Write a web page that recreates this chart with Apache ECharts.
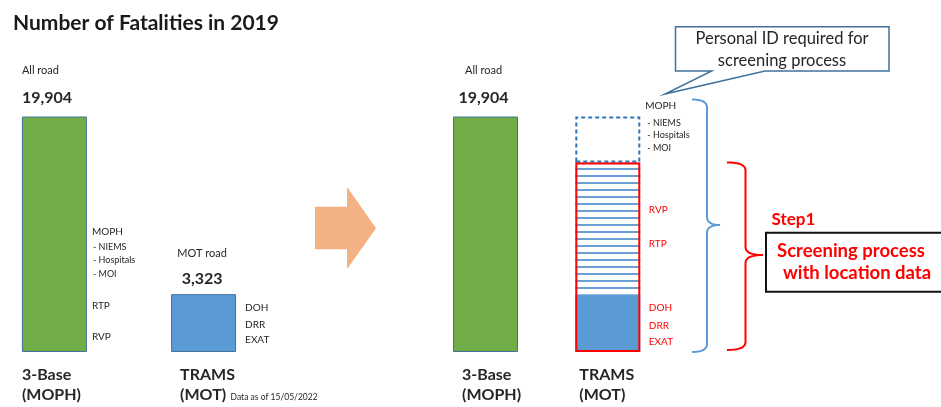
<!DOCTYPE html>
<html>
<head>
<meta charset="utf-8">
<script src="https://cdn.jsdelivr.net/npm/echarts@6/dist/echarts.min.js"></script>
<style>
  html, body { margin: 0; padding: 0; background: #ffffff; }
  #chart { width: 941px; height: 407px; }
</style>
</head>
<body>
<div id="chart"></div>
<script>
// ---------------- data ----------------
const chartTitle = 'Number of Fatalities in 2019';
const categories = ['3-Base', 'TRAMS'];
const categoryOwners = ['(MOPH)', '(MOT)'];
const roadTypes = ['All road', 'MOT road'];
const reportedTotals = [19904, 3323];          // numbers printed above the bars
const drawnHeights = [19904, 4890];            // bar heights as drawn (schematic)
const tramsRecorded = [null, 4890];            // right panel: TRAMS records (blue)
const tramsScreened = [null, 11135];           // right panel: matched by screening (hatched)
const tramsUnmatched = [null, 3879];           // right panel: remaining (dashed)
const mophSources = ['MOPH', '- NIEMS', '- Hospitals', '- MOI'];
const mophOther = ['RTP', 'RVP'];
const motSources = ['DOH', 'DRR', 'EXAT'];
const screenSources = ['RVP', 'RTP'];
const calloutText = ['Personal ID required for', 'screening process'];
const stepTitle = 'Step1';
const stepText = ['Screening process', 'with location data'];
const dataNote = 'Data as of 15/05/2022';

// ---------------- styles ----------------
const FONT = 'Lato';
const GREEN = '#70AD47';
const BLUE = '#5B9BD5';
const EDGE = '#41719C';
const RED = '#FF0000';
const TXT = '#262626';
const fmt = n => n.toLocaleString('en-US');
const YMAX = 19904;

const chart = echarts.init(document.getElementById('chart'));

const axisX = (g) => ({ type: 'category', gridIndex: g, data: categories, boundaryGap: false, show: false });
const axisY = (g) => ({ type: 'value', gridIndex: g, min: 0, max: YMAX, show: false });

const richLabels = {
  a: { fontFamily: FONT, fontSize: 11, color: TXT, lineHeight: 26 },
  b: { fontFamily: FONT, fontSize: 16, fontWeight: 'bold', color: TXT, lineHeight: 28 },
  a2: { fontFamily: FONT, fontSize: 11, color: TXT, lineHeight: 24 },
  b2: { fontFamily: FONT, fontSize: 16, fontWeight: 'bold', color: TXT, lineHeight: 28 }
};

const option = {
  animation: false,
  backgroundColor: '#ffffff',
  title: {
    text: chartTitle, left: 8, top: 8,
    textStyle: { fontFamily: FONT, fontSize: 21, fontWeight: 'bold', color: '#1a1a1a' }
  },
  grid: [
    { left: 54.4, width: 149.2, top: 116.5, height: 235.5, outerBoundsMode: 'none' },
    { left: 485.5, width: 122.3, top: 116.5, height: 235.5, outerBoundsMode: 'none' }
  ],
  xAxis: [axisX(0), axisX(1)],
  yAxis: [axisY(0), axisY(1)],
  series: [
    {
      name: 'left', type: 'bar', xAxisIndex: 0, yAxisIndex: 0, barWidth: 65,
      data: drawnHeights.map((v, i) => ({
        value: v,
        itemStyle: { color: i === 0 ? GREEN : BLUE, borderColor: EDGE, borderWidth: 1 },
        label: i === 0
          ? { show: true, position: 'top', distance: 5, align: 'left', offset: [-32.5, 0],
              formatter: `{a|${roadTypes[0]}}\n{b|${fmt(reportedTotals[0])}}`, rich: richLabels }
          : { show: true, position: 'top', distance: 1, offset: [-1.5, 0],
              formatter: `{a2|${roadTypes[1]}}\n{b2|${fmt(reportedTotals[1])}}`, rich: richLabels }
      }))
    },
    {
      name: 'base+recorded', type: 'bar', xAxisIndex: 1, yAxisIndex: 1, stack: 'r', barWidth: 65, barGap: '-100%',
      data: [
        { value: drawnHeights[0], itemStyle: { color: GREEN, borderColor: EDGE, borderWidth: 1 },
          label: { show: true, position: 'top', distance: 5, offset: [-2, 0],
                   formatter: `{a|${roadTypes[0]}}\n{b|${fmt(reportedTotals[0])}}`, rich: richLabels } },
        { value: tramsRecorded[1], itemStyle: { color: BLUE, borderWidth: 0 } }
      ]
    },
    {
      name: 'screened', type: 'bar', xAxisIndex: 1, yAxisIndex: 1, stack: 'r', barWidth: 65, barGap: '-100%',
      data: tramsScreened.map(v => v == null ? '-' : v),
      itemStyle: {
        color: '#ffffff',
        decal: { symbol: 'rect', symbolSize: 1, color: '#6A9FD8', dashArrayX: [1, 0], dashArrayY: [2, 5], rotation: 0 }
      }
    },
    {
      name: 'unmatched', type: 'bar', xAxisIndex: 1, yAxisIndex: 1, stack: 'r', barWidth: 65, barGap: '-100%',
      data: tramsUnmatched.map(v => v == null ? '-' : v),
      itemStyle: { color: 'rgba(255,255,255,0)', borderColor: '#2E75B6', borderWidth: 2, borderType: [4, 3] }
    },
    {
      name: 'screen box', type: 'bar', xAxisIndex: 1, yAxisIndex: 1, barWidth: 65, barGap: '-100%',
      data: tramsRecorded.map((v, i) => v == null ? '-' : v + tramsScreened[i]),
      itemStyle: { color: 'rgba(255,255,255,0)', borderColor: RED, borderWidth: 2 }
    }
  ]
};
chart.setOption(option);

// ---------------- annotations ----------------
const px = (g, i, v) => chart.convertToPixel({ gridIndex: g }, [i, v]);
const txt = (text, x, y, opt = {}) => ({
  type: 'text', x, y, silent: true, z: 50,
  style: {
    text, fill: opt.color || TXT,
    font: `${opt.weight || 'normal'} ${opt.size || 10}px ${FONT}`,
    align: opt.align || 'left', textAlign: opt.align || 'left',
    verticalAlign: 'middle', textVerticalAlign: 'middle'
  }
});
const quad = (p0, p1, p2, out) => {
  for (let k = 1; k <= 8; k++) {
    const t = k / 8, u = 1 - t;
    out.push([u * u * p0[0] + 2 * u * t * p1[0] + t * t * p2[0], u * u * p0[1] + 2 * u * t * p1[1] + t * t * p2[1]]);
  }
};
const brace = (x0, x1, xm, top, mid, bottom, color) => {
  const r = 8;
  const pts = [[x0, top]];
  quad([x0, top], [x1, top], [x1, top + r], pts);
  pts.push([x1, mid - r]);
  quad([x1, mid - r], [x1, mid], [xm, mid], pts);
  quad([xm, mid], [x1, mid], [x1, mid + r], pts);
  pts.push([x1, bottom - r]);
  quad([x1, bottom - r], [x1, bottom], [x0, bottom], pts);
  return { type: 'polyline', silent: true, z: 40, shape: { points: pts },
           style: { stroke: color, lineWidth: 2, fill: null } };
};

const g = [];
const L0 = px(0, 0, 0), L1 = px(0, 1, 0), R0 = px(1, 0, 0), R1 = px(1, 1, 0);
const half = 32.5;

// category names under bars
[[L0[0] - 32.5, 0], [L1[0] - 23.5, 1], [R0[0] - 23.5, 0], [R1[0] - 28.5, 1]].forEach(([x, i]) => {
  g.push(txt(categories[i], x, 375, { size: 16, weight: 'bold' }));
  g.push(txt(categoryOwners[i], x, 395, { size: 16, weight: 'bold' }));
});
g.push(txt(dataNote, L1[0] + 27, 397.5, { size: 8.5 }));

// left panel side labels
const lgx = L0[0] + half + 5;
g.push(txt(mophSources[0], lgx, 232, { size: 10 }));
[246.7, 260, 274].forEach((y, k) => g.push(txt(mophSources[k + 1], lgx + 1, y, { size: 9 })));
g.push(txt(mophOther[0], lgx, 306, { size: 10 }));
g.push(txt(mophOther[1], lgx, 337, { size: 10 }));
const lbx = L1[0] + half + 9;
[307.3, 324.5, 340].forEach((y, k) => g.push(txt(motSources[k], lbx, y, { size: 10 })));

// right panel side labels
const rgx = R1[0] + half + 5;
g.push(txt(mophSources[0], rgx, 106, { size: 10 }));
[122.7, 135.3, 148.3].forEach((y, k) => g.push(txt(mophSources[k + 1], rgx + 2, y, { size: 9 })));
const rrx = R1[0] + half + 8.5;
[210, 243.3].forEach((y, k) => g.push(txt(screenSources[k], rrx, y, { size: 10, color: RED })));
[307.7, 325.7, 342].forEach((y, k) => g.push(txt(motSources[k], rrx, y, { size: 10, color: RED })));

// braces
const topAll = px(1, 1, YMAX)[1];
const topBox = px(1, 1, tramsRecorded[1] + tramsScreened[1])[1];
g.push(brace(692, 707, 720, topAll - 17, 225, R1[1], '#5B9BD5'));
g.push(brace(727, 745.5, 763, topBox, 255, R1[1] - 2, RED));

// orange arrow
g.push({ type: 'polygon', silent: true, z: 10,
  shape: { points: [[315, 206.7], [347, 206.7], [347, 186.7], [376, 228.3], [347, 269.3], [347, 249.3], [315, 249.3]] },
  style: { fill: '#F4B183' } });

// callout
g.push({ type: 'polygon', silent: true, z: 30,
  shape: { points: [[675.5, 26.7], [889, 26.7], [889, 71], [765, 71], [665, 94], [711.7, 71], [675.5, 71]] },
  style: { fill: '#ffffff', stroke: EDGE, lineWidth: 1.5 } });
g.push(txt(calloutText[0], 782, 38.5, { size: 16.5, align: 'center' }));
g.push(txt(calloutText[1], 782, 61, { size: 16.5, align: 'center' }));

// step box
g.push(txt(stepTitle, 771.5, 220, { size: 17, weight: 'bold', color: RED }));
g.push({ type: 'rect', silent: true, z: 30,
  shape: { x: 766, y: 232.7, width: 200, height: 59 },
  style: { fill: '#ffffff', stroke: '#111111', lineWidth: 2 } });
g.push(txt(stepText[0], 851, 251, { size: 18.5, weight: 'bold', color: RED, align: 'center' }));
g.push(txt(stepText[1], 857, 273, { size: 18.5, weight: 'bold', color: RED, align: 'center' }));

chart.setOption({ graphic: g });
</script>
</body>
</html>
